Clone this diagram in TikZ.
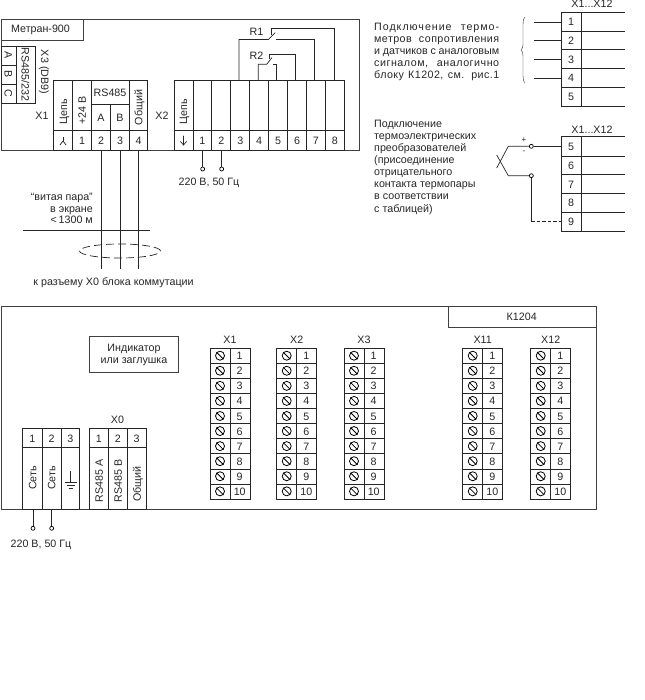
\documentclass[tikz,border=0pt]{standalone}
\usepackage{fontspec}
\setmainfont{Liberation Sans}
\usetikzlibrary{calc, shapes.geometric}
\newcommand{\noteline}[2]{\makebox[125pt][s]{\addfontfeature{LetterSpace=#1}#2}}
\tikzset{
  wire/.style={line width=0.7pt, black!85},
  frame/.style={line width=0.9pt, black!75},
  lblbase/.style={inner sep=0pt, text=black!85, font=\fontsize{10.7}{12.1}\selectfont},
  lbl/.style={lblbase, text height=7.7pt, text depth=0pt},
  vlbl/.style={lbl, rotate=90},
  rlbl/.style={lbl, rotate=-90},
  pin/.style={circle, draw, fill=white, line width=0.7pt, inner sep=0pt, minimum size=4pt},
  note/.style={lblbase, anchor=north west, align=left}
}
\begin{document}
\begin{tikzpicture}[x=1pt, y=-1pt]
\useasboundingbox (0,0) rectangle (644,700);
%Upper unit, outer frame
\draw[frame] (1,19) rectangle (359,150);
\draw[frame] (1,40.5) -- (83,40.5) -- (83,19);
\node[lbl] (metran) at (40.5,29) {Метран-900};
%X3 connector on the left side
\draw[wire] (1,46) rectangle (35,103);
\draw[wire] (16,46) -- (16,103);
\draw[wire] (1,65) -- (16,65);
\draw[wire] (1,84) -- (16,84);
\node[rlbl] (x3a) at (8.5,55.5) {A};
\node[rlbl] (x3b) at (8.5,74.5) {B};
\node[rlbl] (x3c) at (8.5,93.5) {C};
\node[rlbl] (x3type) at (25.5,74.5) {RS485/232};
\node[rlbl] (x3name) at (45,72) {X3 (DB9)};
%X1 connector
\node[lbl] (x1name) at (42,116) {X1};
\draw[wire] (53.5,80.5) rectangle (147.7,150);
\draw[wire] (53.5,130.5) -- (147.7,130.5);
\draw[wire] (91.5,104.5) -- (129,104.5);
\foreach \x in {72.5,91.5,129} {
  \draw[wire] (\x,80.5) -- (\x,150);
}
\draw[wire] (110.5,104.5) -- (110.5,150);
\node[vlbl] (x1chain) at (63.3,112) {Цепь};
\node[vlbl] (x1plus) at (82,110.8) {+24 В};
\node[lbl] (x1rs) at (110,93) {RS485};
\node[lbl] (x1a) at (101,117.5) {A};
\node[lbl] (x1b) at (120,117.5) {B};
\node[vlbl] (x1gnd) at (138.5,107.5) {Общий};
\draw[wire] (63,137) -- (63,141);
\draw[wire] (63,141) -- (60,145);
\draw[wire] (63,141) -- (66,145);
\node[lbl] (x1n1) at (82,140.5) {1};
\node[lbl] (x1n2) at (101,140.5) {2};
\node[lbl] (x1n3) at (120,140.5) {3};
\node[lbl] (x1n4) at (138.5,140.5) {4};
%X2 connector
\node[lbl] (x2name) at (162,116) {X2};
\draw[wire] (174,80.5) rectangle (344.3,150);
\draw[wire] (174,130.5) -- (344.3,130.5);
\foreach \i in {1,...,8} {
  \draw[wire] ({174+18.92*\i},80.5) -- ({174+18.92*\i},150);
}
\foreach \i in {1,...,8} {
  \node[lbl] (x2n\i) at ({174+18.92*\i+9.5},140.5) {\i};
}
\node[vlbl] (x2chain) at (183.3,111.5) {Цепь};
\draw[wire, line cap=round] (183.5,136) -- (183.5,145);
\draw[wire, line cap=round] (180.5,141.5) -- (183.5,145) -- (186.5,141.5);
%Relay R1
\node[lbl] (r1) at (256.5,32) {R1};
\coordinate (r1a) at (239,80.5);
\coordinate (r1b) at (239,39.5);
\coordinate (r1c) at (268.3,39.5);
\coordinate (r1d) at (275.3,32.7);
\coordinate (r1e) at (271.7,35);
\coordinate (r1f) at (271.7,28);
\coordinate (r1g) at (334.3,28);
\coordinate (r1h) at (334.3,80.5);
\coordinate (r1i) at (276,39.5);
\coordinate (r1j) at (314.7,39.5);
\coordinate (r1k) at (314.7,80.5);
\draw[wire] (r1a) -- (r1b) -- (r1c) -- (r1d);
\draw[wire] (r1e) -- (r1f) -- (r1g) -- (r1h);
\draw[wire] (r1i) -- (r1j) -- (r1k);
%Relay R2
\node[lbl] (r2) at (256.5,56) {R2};
\coordinate (r2a) at (258.3,80.5);
\coordinate (r2b) at (258.3,64.3);
\coordinate (r2c) at (266.7,64.3);
\coordinate (r2d) at (272,57.6);
\coordinate (r2e) at (269.7,59.5);
\coordinate (r2f) at (269.7,54.3);
\coordinate (r2g) at (295.7,54.3);
\coordinate (r2h) at (295.7,80.5);
\coordinate (r2i) at (273.3,64.3);
\coordinate (r2j) at (276.7,64.3);
\coordinate (r2k) at (276.7,80.5);
\draw[wire] (r2a) -- (r2b) -- (r2c) -- (r2d);
\draw[wire] (r2e) -- (r2f) -- (r2g) -- (r2h);
\draw[wire] (r2i) -- (r2j) -- (r2k);
%Mains pins of X2
\coordinate (acA) at (202.7,150);
\coordinate (acB) at (221.7,150);
\node[pin] (acApin) at (202.7,169) {};
\node[pin] (acBpin) at (221.7,169) {};
\draw[wire] (acA) -- (acApin);
\draw[wire] (acB) -- (acBpin);
\node[lbl] (acU) at (209,182) {220 В, 50 Гц};
%Twisted pair
\foreach \x/\n in {101.5/1,120.5/2,138.5/3} {
  \coordinate (pairTop\n) at (\x,150);
  \coordinate (pairEnd\n) at (\x,269.3);
  \draw[wire] (pairTop\n) -- (pairEnd\n);
}
\coordinate (cutL) at (23,230);
\coordinate (cutR) at (149.5,230);
\draw[wire] (cutL) -- (cutR);
\node[draw, wire, dashed, dash pattern=on 8pt off 4pt, ellipse, inner sep=0pt, minimum width=81pt, minimum height=14pt] (shield) at (120,251) {};
\node[lbl, anchor=east] (pairA) at (93,197) {“витая пара”};
\node[lbl, anchor=east] (pairB) at (93,209) {в экране};
\node[lbl, anchor=east] (pairC) at (93,220) {<\,1300 м};
\node[lbl] (toX0) at (113.5,281.7) {к разъему X0 блока коммутации};
%Right side, connection of sensors
\node[note] (noteA) at (374,22.7) {%
  \noteline{9}{Подключение термо-}\\
  \noteline{4}{метров сопротивления}\\
  \noteline{0}{и датчиков с аналоговым}\\
  \noteline{5}{сигналом, аналогично}\\
  \noteline{4}{блоку К1202, см. рис.1}};
\node[lbl] (xsA) at (592,4) {X1...X12};
\draw[wire] (561,12.3) -- (561,106.3);
\draw[wire] (581.3,12.3) -- (581.3,106.3);
\foreach \y in {12.3,31,49.7,68.7,87.3,106.3} {
  \draw[wire] (561,\y) -- (625,\y);
}
\foreach \i/\y in {1/21.7,2/40.4,3/59.2,4/78,5/96.8} {
  \node[lbl] (a\i) at (571,\y) {\i};
}
\foreach \i/\y in {1/22,2/40.3,3/59.3,4/78.7} {
  \coordinate (sensIn\i) at (534,\y);
  \coordinate (sensOut\i) at (561,\y);
  \draw[wire] (sensIn\i) -- (sensOut\i);
}
\draw[line width=0.4pt, black!85] (525,17) .. controls (523,19) and (523,22) .. (523,28) -- (523,43) .. controls (523,47) and (522.5,49) .. (521,50) .. controls (522.5,51) and (523,53) .. (523,57) -- (523,72) .. controls (523,78) and (523,81) .. (525,83);
%Right side, thermocouple
\node[note] (noteB) at (374,119.8) {Подключение\\термоэлектрических\\преобразователей\\(присоединение\\отрицательного\\контакта термопары\\в соответствии\\с таблицей)};
\node[lbl] (xsB) at (592,129.3) {X1...X12};
\draw[wire] (561,136.7) -- (561,231.3);
\draw[wire] (581.3,136.7) -- (581.3,231.3);
\foreach \y in {136.7,156,174.7,193.7,212.3,231.3} {
  \draw[wire] (561,\y) -- (625,\y);
}
\foreach \i/\y in {5/146.3,6/165.3,7/184.2,8/203,9/221.8} {
  \node[lbl] (b\i) at (571,\y) {\i};
}
\node[pin] (tcPlus) at (531.3,146.3) {};
\node[pin] (tcMinus) at (531.3,175.7) {};
\coordinate (tcIn5) at (561,146.3);
\coordinate (tcBend) at (531.3,221.3);
\coordinate (tcIn9) at (561,221.3);
\coordinate (tcA) at (508.3,146.3);
\coordinate (tcB) at (508.3,175.7);
\coordinate (tcC) at (496.7,168);
\coordinate (tcD) at (496.7,155);
\draw[wire] (tcC) -- (tcA) -- (tcPlus);
\draw[wire] (tcD) -- (tcB) -- (tcMinus);
\draw[wire] (tcPlus) -- (tcIn5);
\draw[wire] (tcMinus) -- (tcBend);
\draw[wire, dashed, dash pattern=on 3.5pt off 2pt] (tcBend) -- (tcIn9);
\node[lblbase, font=\fontsize{8}{9}\selectfont] (plus) at (524,140.5) {+};
\node[lblbase, font=\fontsize{8}{9}\selectfont] (minus) at (524,152.5) {-};
%Lower unit, outer frame
\draw[frame] (1,306) rectangle (596.7,509.3);
\draw[frame] (448.3,306) -- (448.3,327.7) -- (596.7,327.7);
\node[lbl] (k1204) at (521.7,317) {К1204};
\draw[frame] (89,336) rectangle (178.3,372);
\node[lblbase, align=center] (indicator) at (134,355) {Индикатор\\или заглушка};
%Screw terminals
\foreach \col/\name in {210/X1,276.7/X2,344/X3,462.7/X11,530.7/X12} {
  \node[lbl] (lbl\name) at (\col+20,339.3) {\name};
  \draw[wire] (\col,348.3) rectangle (\col+40,499);
  \draw[wire] (\col+20,348.3) -- (\col+20,499);
  \foreach \r in {1,...,10} {
    \pgfmathsetmacro{\rowy}{348.3+15.07*(\r-1)}
    \draw[wire] (\col,\rowy) -- (\col+40,\rowy);
    \node[lbl] (\name n\r) at (\col+29.7,\rowy+7.6) {\r};
    \node[circle, draw, line width=0.8pt, inner sep=0pt, minimum size=9pt] (\name s\r) at (\col+10,\rowy+7.4) {};
    \draw[line width=0.8pt] (\name s\r.135) -- (\name s\r.315);
  }
}
%Mains and X0 blocks
\node[lbl] (x0name) at (117.5,419.3) {X0};
\foreach \xa/\xb/\xc/\xd/\blk in {22.7/42/61/79.7/mains,89.3/108.3/127.3/146/xzero} {
  \draw[wire] (\xa,428.3) rectangle (\xd,509.3);
  \draw[wire] (\xa,447.7) -- (\xd,447.7);
  \draw[wire] (\xb,428.3) -- (\xb,509.3);
  \draw[wire] (\xc,428.3) -- (\xc,509.3);
  \node[lbl] (\blk n1) at ({(\xa+\xb)/2},439) {1};
  \node[lbl] (\blk n2) at ({(\xb+\xc)/2},439) {2};
  \node[lbl] (\blk n3) at ({(\xc+\xd)/2},439) {3};
}
\node[vlbl] (netA) at (32.5,478) {Сеть};
\node[vlbl] (netB) at (51.5,478) {Сеть};
\draw[wire] (70.5,471) -- (70.5,482.7);
\draw[wire] (64.5,482.7) -- (76.5,482.7);
\draw[wire] (66.5,485.6) -- (74.5,485.6);
\draw[wire] (68.5,488.5) -- (72.5,488.5);
\node[vlbl] (rsA) at (99,481) {RS485 A};
\node[vlbl] (rsB) at (118,481) {RS485 B};
\node[vlbl] (common) at (137,484) {Общий};
%Mains pins below
\coordinate (mainsA) at (33,509.3);
\coordinate (mainsB) at (51.7,509.3);
\node[pin] (mainsApin) at (33,528.3) {};
\node[pin] (mainsBpin) at (51.7,528.3) {};
\draw[wire] (mainsA) -- (mainsApin);
\draw[wire] (mainsB) -- (mainsBpin);
\node[lbl] (mainsU) at (41,544) {220 В, 50 Гц};
\end{tikzpicture}
\end{document}
